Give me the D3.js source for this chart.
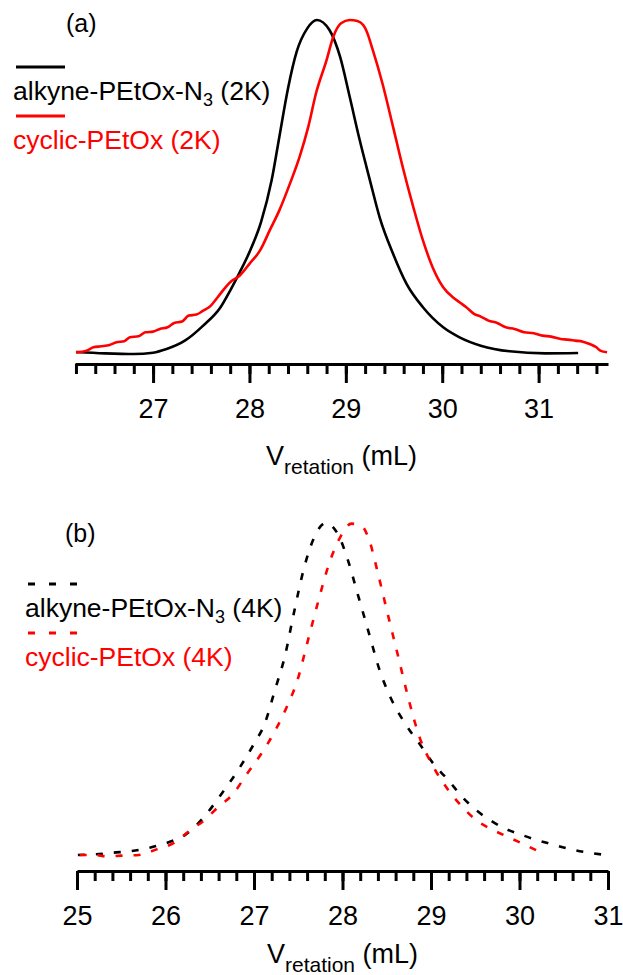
<!DOCTYPE html>
<html>
<head>
<meta charset="utf-8">
<script src="https://cdn.jsdelivr.net/npm/d3@7"></script>
<style>
  body { margin: 0; background: #fff; }
  svg { display: block; font-family: "Liberation Sans", Arial, sans-serif; }
</style>
</head>
<body>
<div></div>
<script>
// panel (a): 2K samples, normalised intensity vs retention volume
var alkyne2K = [
  [26.2, 0.006], [26.5, 0.002], [26.8, 0], [27.0, 0.004], [27.14, 0.015],
  [27.33, 0.04], [27.52, 0.085], [27.7, 0.14], [27.8, 0.19], [27.9, 0.245],
  [28.0, 0.305], [28.12, 0.395], [28.23, 0.52], [28.31, 0.65], [28.4, 0.795],
  [28.49, 0.905], [28.6, 0.975], [28.7, 1.0], [28.83, 0.97], [28.94, 0.89],
  [29.04, 0.77], [29.14, 0.645], [29.25, 0.52], [29.35, 0.41], [29.49, 0.3],
  [29.63, 0.21], [29.8, 0.14], [30.01, 0.08], [30.18, 0.05], [30.4, 0.025],
  [30.7, 0.008], [31.07, 0.002], [31.41, 0.003]
];
var cyclic2K = [
  [26.2, 0.005], [26.31, 0.01], [26.38, 0.02], [26.46, 0.023], [26.55, 0.027],
  [26.62, 0.035], [26.7, 0.038], [26.76, 0.05], [26.85, 0.053], [26.92, 0.065],
  [27.0, 0.067], [27.07, 0.075], [27.15, 0.08], [27.22, 0.093], [27.3, 0.097],
  [27.37, 0.115], [27.45, 0.118], [27.52, 0.13], [27.6, 0.145], [27.67, 0.17],
  [27.8, 0.215], [27.9, 0.235], [28.0, 0.27], [28.11, 0.31], [28.21, 0.37],
  [28.31, 0.43], [28.42, 0.51], [28.52, 0.59], [28.61, 0.68], [28.69, 0.78],
  [28.8, 0.88], [28.87, 0.95], [28.95, 0.99], [29.04, 1.0], [29.12, 0.997],
  [29.18, 0.985], [29.21, 0.97], [29.28, 0.91], [29.38, 0.81], [29.49, 0.68],
  [29.59, 0.56], [29.7, 0.44], [29.8, 0.34], [29.9, 0.26], [30.01, 0.2],
  [30.11, 0.17], [30.18, 0.155], [30.25, 0.14], [30.33, 0.12], [30.4, 0.112],
  [30.48, 0.1], [30.57, 0.093], [30.66, 0.08], [30.75, 0.075], [30.85, 0.065],
  [30.95, 0.062], [31.04, 0.055], [31.13, 0.052], [31.23, 0.045], [31.3, 0.043],
  [31.38, 0.04], [31.46, 0.037], [31.53, 0.03], [31.6, 0.02], [31.64, 0.01],
  [31.71, 0.005]
];

// panel (b): 4K samples
var alkyne4K = [
  [25.01, 0], [25.21, 0.002], [25.41, 0.007], [25.62, 0.012], [25.82, 0.022],
  [26.02, 0.037], [26.23, 0.062], [26.43, 0.113], [26.63, 0.183], [26.84, 0.264],
  [27.0, 0.335], [27.12, 0.395], [27.24, 0.5], [27.35, 0.6], [27.45, 0.728],
  [27.57, 0.869], [27.67, 0.95], [27.81, 1.0], [27.96, 0.96], [28.06, 0.889],
  [28.18, 0.778], [28.3, 0.667], [28.42, 0.556], [28.54, 0.476], [28.71, 0.395],
  [28.87, 0.335], [29.03, 0.274], [29.2, 0.224], [29.36, 0.173], [29.52, 0.133],
  [29.68, 0.103], [29.85, 0.078], [30.01, 0.062], [30.17, 0.047], [30.37, 0.032],
  [30.58, 0.017], [30.78, 0.007], [30.98, 0]
];
var cyclic4K = [
  [25.03, 0], [25.21, 0], [25.33, -0.004], [25.5, -0.002], [25.7, 0],
  [25.9, 0.017], [26.1, 0.037], [26.27, 0.073], [26.43, 0.103], [26.59, 0.143],
  [26.76, 0.183], [26.92, 0.244], [27.08, 0.304], [27.24, 0.375], [27.37, 0.446],
  [27.49, 0.526], [27.61, 0.647], [27.73, 0.768], [27.85, 0.879], [27.98, 0.96],
  [28.1, 0.998], [28.22, 0.99], [28.3, 0.95], [28.4, 0.849], [28.5, 0.738],
  [28.63, 0.597], [28.75, 0.466], [28.87, 0.355], [29.03, 0.264], [29.2, 0.194],
  [29.36, 0.143], [29.52, 0.103], [29.68, 0.078], [29.89, 0.052], [30.09, 0.027],
  [30.29, 0.002]
];

var majorTicksA = [27, 28, 29, 30, 31],
    majorTicksB = [25, 26, 27, 28, 29, 30, 31];

var width = 623, height = 975;

var svg = d3.select("div").append("svg")
  .attr("width", width)
  .attr("height", height);

function panel(opts) {
  var x = d3.scaleLinear().domain(opts.domain).range([opts.left, opts.right]);
  var y = d3.scaleLinear().domain([0, 1]).range([opts.base, opts.top]);

  var line = d3.line()
    .curve(d3.curveMonotoneX)
    .x(function (d) { return x(d[0]); })
    .y(function (d) { return y(d[1]); });

  opts.series.forEach(function (s) {
    svg.append("path").datum(s.data)
      .attr("d", line)
      .attr("fill", "none")
      .attr("stroke", s.color)
      .attr("stroke-width", 2.6)
      .attr("stroke-dasharray", opts.dash || null);
  });

  // minor ticks every 0.2 mL
  var minor = d3.range(Math.ceil(opts.domain[0] * 5 - 1e-6), Math.floor(opts.domain[1] * 5 + 1e-6) + 1)
    .map(function (k) { return k / 5; });

  svg.append("g")
    .attr("transform", "translate(0," + opts.axisY + ")")
    .call(d3.axisBottom(x).tickValues(minor).tickSize(10).tickSizeOuter(0).tickFormat(""))
    .call(function (g) {
      g.selectAll("line, path").attr("stroke", "#000").attr("stroke-width", 3);
    });

  var major = svg.append("g")
    .attr("transform", "translate(0," + opts.axisY + ")")
    .call(d3.axisBottom(x).tickValues(opts.ticks).tickSize(19).tickSizeOuter(0).tickPadding(16).tickFormat(d3.format("d")));
  major.select(".domain").remove();
  major.selectAll("line").attr("stroke", "#000").attr("stroke-width", 3);
  major.selectAll("text")
    .attr("fill", "#000")
    .style("font-family", "'Liberation Sans', Arial, sans-serif")
    .style("font-size", "27px");

  // axis title
  var t = svg.append("text")
    .attr("x", (opts.left + opts.right) / 2)
    .attr("y", opts.titleY)
    .attr("text-anchor", "middle")
    .attr("font-size", 27)
    .attr("fill", "#000");
  t.append("tspan").text("V");
  t.append("tspan").attr("font-size", 21).attr("dy", 9).text("retation");
  t.append("tspan").attr("dy", -9).text(" (mL)");

  // panel letter
  svg.append("text")
    .attr("x", opts.letterX).attr("y", opts.letterY)
    .attr("font-size", 25).attr("fill", "#000")
    .text(opts.letter);

  // legend
  opts.series.forEach(function (s, i) {
    var ly = opts.legendY + i * opts.legendStep;
    svg.append("line")
      .attr("x1", opts.legendX1).attr("x2", opts.legendX2)
      .attr("y1", ly).attr("y2", ly)
      .attr("stroke", s.color).attr("stroke-width", 3)
      .attr("stroke-dasharray", opts.legendDash || null);
    var lt = svg.append("text")
      .attr("x", opts.textX).attr("y", ly + 33)
      .attr("font-size", 26.5).attr("fill", s.color);
    s.label.forEach(function (part) {
      if (part.sub) {
        lt.append("tspan").attr("font-size", 18).attr("dy", 6).text(part.sub);
      } else {
        lt.append("tspan").attr("dy", part.up ? -6 : 0).text(part.text);
      }
    });
  });
}

panel({
  domain: [26.19, 31.72], left: 75, right: 608,
  base: 354, top: 20, axisY: 364, titleY: 465,
  ticks: majorTicksA, letter: "(a)", letterX: 66, letterY: 32,
  legendX1: 16, legendX2: 65, textX: 13, legendY: 67, legendStep: 49,
  series: [
    { data: alkyne2K, color: "#000",
      label: [{ text: "alkyne-PEtOx-N" }, { sub: "3" }, { text: " (2K)", up: true }] },
    { data: cyclic2K, color: "#ff0000", label: [{ text: "cyclic-PEtOx (2K)" }] }
  ]
});

panel({
  domain: [25, 31], left: 77, right: 608,
  base: 855, top: 523, axisY: 871, titleY: 963,
  ticks: majorTicksB, letter: "(b)", letterX: 65, letterY: 542,
  dash: "7,11", legendDash: "7,14",
  legendX1: 28, legendX2: 77, textX: 25, legendY: 584, legendStep: 49,
  series: [
    { data: alkyne4K, color: "#000",
      label: [{ text: "alkyne-PEtOx-N" }, { sub: "3" }, { text: " (4K)", up: true }] },
    { data: cyclic4K, color: "#ff0000", label: [{ text: "cyclic-PEtOx (4K)" }] }
  ]
});
</script>
</body>
</html>
